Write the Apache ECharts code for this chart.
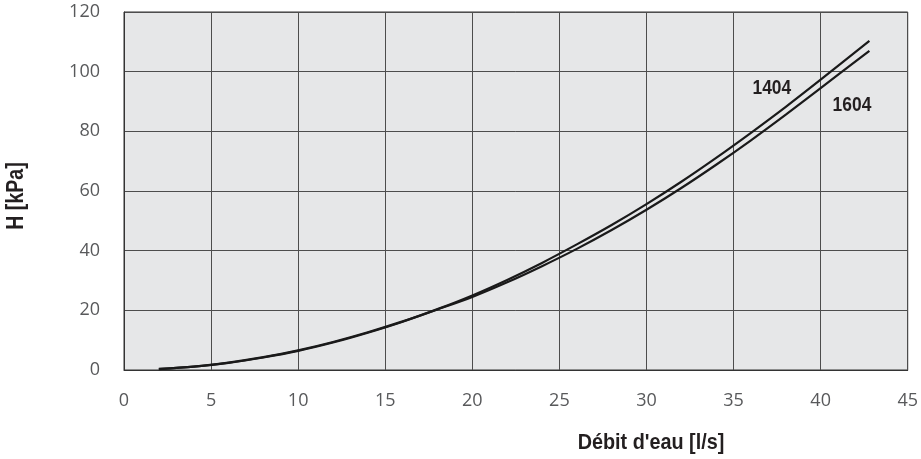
<!DOCTYPE html>
<html>
<head>
<meta charset="utf-8">
<script src="https://cdn.jsdelivr.net/npm/echarts@6/dist/echarts.min.js"></script>
<style>
  html, body { margin: 0; padding: 0; background: #ffffff; }
  #chart { width: 921px; height: 459px; }
</style>
</head>
<body>
<div id="chart"></div>
<script>
// Pressure drop H [kPa] versus water flow [l/s] for two unit sizes
const flow = [2, 4, 6, 8, 10, 12, 14, 16, 18, 20, 22, 24, 26, 28, 30, 32, 34, 36, 38, 40, 42.8];
const head1404 = [0.3, 1.1, 2.4, 4.2, 6.4, 9.2, 12.5, 16.2, 20.4, 25.0, 30.2, 35.9, 42.1, 48.6, 55.6, 63.1, 71.1, 79.5, 88.2, 97.3, 110.3];
const head1604 = [0.35, 1.15, 2.5, 4.3, 6.6, 9.4, 12.65, 16.3, 20.3, 24.5, 29.4, 34.8, 40.6, 46.9, 53.7, 61.0, 68.8, 77.0, 85.6, 94.5, 107.0];
const curveNames = ['1404', '1604'];
// label anchor points in data units (flow, head)
const labelAt1404 = [37.2, 94.2];
const labelAt1604 = [41.8, 88.8];

const xTitle = "Débit d'eau [l/s]";
const yTitle = 'H [kPa]';

const pair = (xs, ys) => xs.map((x, i) => [x, ys[i]]);

const boldFont = "'Liberation Sans', 'Roboto', sans-serif";
const tickFont = "'Open Sans', 'Noto Sans', sans-serif";

const chart = echarts.init(document.getElementById('chart'), null, { renderer: 'canvas' });

function curve(name, values) {
  return {
    name: name,
    type: 'line',
    data: pair(flow, values),
    smooth: 0.3,
    showSymbol: false,
    symbol: 'none',
    lineStyle: { color: '#1a1a1a', width: 2.2 },
    animation: false
  };
}

chart.setOption({
  animation: false,
  grid: {
    left: 124, right: 11, top: 12, bottom: 89,
    show: true,
    backgroundColor: '#e6e7e8',
    borderColor: '#333333',
    borderWidth: 1
  },
  xAxis: {
    type: 'value',
    min: 0, max: 45, interval: 5,
    axisLine: { show: true, lineStyle: { color: '#333333', width: 1 } },
    axisTick: { show: false },
    axisLabel: { fontFamily: tickFont, fontSize: 18, color: '#58595b', margin: 22 },
    splitLine: { show: true, lineStyle: { color: '#4d4d4d', width: 1 } }
  },
  yAxis: {
    type: 'value',
    min: 0, max: 120, interval: 20,
    axisLine: { show: true, lineStyle: { color: '#333333', width: 1 } },
    axisTick: { show: false },
    axisLabel: { fontFamily: tickFont, fontSize: 18, color: '#58595b', margin: 24 },
    splitLine: { show: true, lineStyle: { color: '#4d4d4d', width: 1 } }
  },
  series: [
    curve(curveNames[0], head1404),
    curve(curveNames[1], head1604)
  ]
});

// Condensed bold texts (squeezed along the reading direction)
function boldText(text, x, y, size, squeeze, rotation) {
  return {
    type: 'text',
    x: x, y: y,
    rotation: rotation || 0,
    scaleX: squeeze,
    scaleY: 1,
    style: {
      text: text,
      fill: '#231f20',
      font: 'bold ' + size + 'px ' + boldFont,
      align: 'center',
      verticalAlign: 'middle'
    },
    silent: true
  };
}

const p1404 = chart.convertToPixel({ gridIndex: 0 }, labelAt1404);
const p1604 = chart.convertToPixel({ gridIndex: 0 }, labelAt1604);

chart.setOption({
  graphic: [
    boldText(xTitle, 651, 443, 22, 0.9, 0),
    boldText(yTitle, 17, 196, 23, 0.85, Math.PI / 2),
    boldText(curveNames[0], p1404[0], p1404[1], 20, 0.87, 0),
    boldText(curveNames[1], p1604[0], p1604[1], 20, 0.87, 0)
  ]
});
</script>
</body>
</html>
